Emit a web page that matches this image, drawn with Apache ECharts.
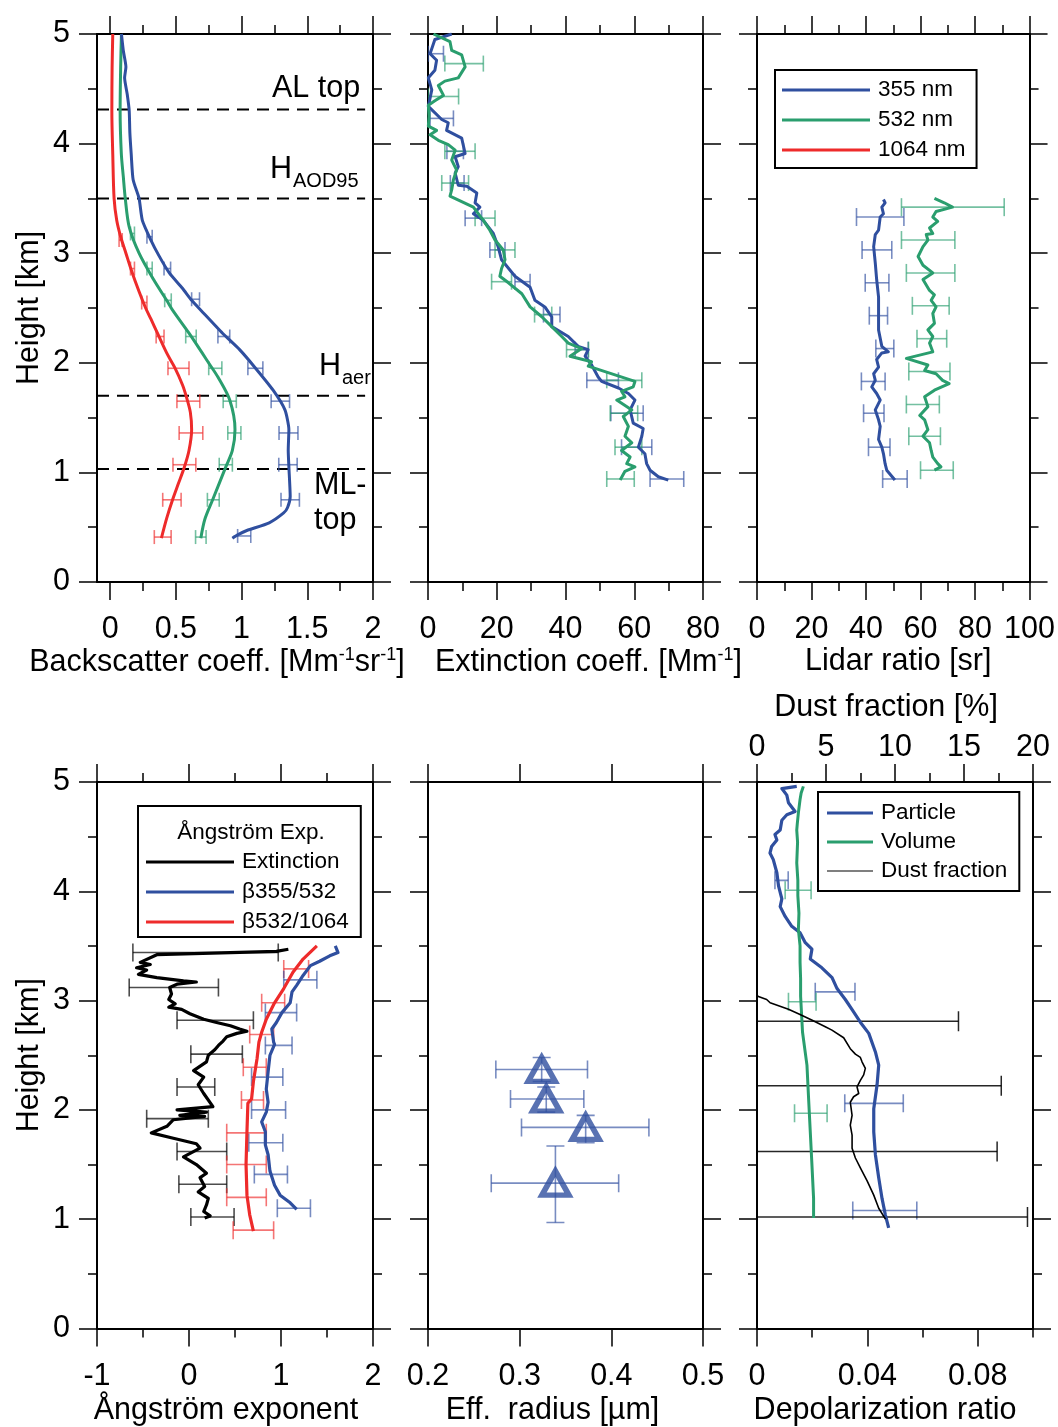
<!DOCTYPE html>
<html><head><meta charset="utf-8">
<script src="https://cdn.jsdelivr.net/npm/echarts@6/dist/echarts.min.js"></script>
<style>html,body{margin:0;padding:0;background:#fff}#c{width:1058px;height:1427px}</style>
</head><body><div id="c"></div><script>
// ---------------- tick values ----------------
const heightMajor=[0,1,2,3,4,5], heightMinor=[0.5,1.5,2.5,3.5,4.5];
const bscMajor=[0,0.5,1,1.5,2], bscMinor=[0.25,0.75,1.25,1.75];
const extMajor=[0,20,40,60,80], extMinor=[10,30,50,70];
const lrMajor=[0,20,40,60,80,100], lrMinor=[10,30,50,70,90];
const aeMajor=[-1,0,1,2], aeMinor=[-0.5,0.5,1.5];
const reffMajor=[0.2,0.3,0.4,0.5];
const depMajor=[0,0.04,0.08], depMinor=[0.02,0.06,0.1];
const dustMajor=[0,5,10,15,20], dustMinor=[2.5,7.5,12.5,17.5];

// ---------------- panel 1: backscatter [value, height km] ----------------
const bsc1064=[[0.02,5.0],[0.015,4.7],[0.013,4.3],[0.02,3.9],[0.03,3.5],[0.05,3.3],[0.08,3.15],[0.12,3.0],[0.16,2.85],[0.22,2.65],[0.27,2.5],[0.31,2.4],[0.36,2.27],[0.43,2.09],[0.49,1.96],[0.55,1.8],[0.58,1.69],[0.61,1.55],[0.62,1.39],[0.60,1.2],[0.565,1.05],[0.52,0.9],[0.475,0.75],[0.43,0.58],[0.39,0.40]];
const bsc532=[[0.086,5.0],[0.08,4.7],[0.076,4.3],[0.085,3.91],[0.10,3.7],[0.115,3.5],[0.145,3.24],[0.22,3.0],[0.335,2.75],[0.43,2.57],[0.475,2.48],[0.60,2.27],[0.70,2.09],[0.76,1.98],[0.82,1.87],[0.91,1.66],[0.95,1.39],[0.93,1.2],[0.88,1.05],[0.78,0.75],[0.72,0.57],[0.69,0.40]];
const bsc355=[[0.086,5.0],[0.10,4.85],[0.12,4.7],[0.11,4.6],[0.13,4.45],[0.145,4.3],[0.15,4.1],[0.16,3.91],[0.175,3.67],[0.22,3.5],[0.245,3.3],[0.31,3.12],[0.37,2.98],[0.45,2.82],[0.55,2.68],[0.62,2.57],[0.69,2.48],[0.855,2.27],[0.985,2.12],[1.10,1.96],[1.24,1.75],[1.33,1.57],[1.36,1.39],[1.355,1.2],[1.36,1.05],[1.37,0.78],[1.35,0.68],[1.32,0.63],[1.21,0.54],[1.04,0.47],[0.97,0.43],[0.93,0.40]];
// error bars [center, height, half width]
const bsc1064Err=[[0.08,3.12,0.012],[0.17,2.86,0.015],[0.26,2.55,0.02],[0.38,2.24,0.03],[0.52,1.95,0.08],[0.595,1.65,0.087],[0.615,1.36,0.09],[0.565,1.07,0.087],[0.47,0.75,0.07],[0.40,0.41,0.064]];
const bsc532Err=[[0.17,3.18,0.015],[0.30,2.86,0.02],[0.44,2.57,0.025],[0.615,2.24,0.04],[0.80,1.95,0.05],[0.91,1.65,0.05],[0.945,1.36,0.05],[0.88,1.07,0.05],[0.785,0.75,0.045],[0.69,0.41,0.04]];
const bsc355Err=[[0.30,3.15,0.02],[0.435,2.86,0.025],[0.65,2.58,0.03],[0.865,2.24,0.045],[1.105,1.95,0.057],[1.295,1.65,0.07],[1.357,1.36,0.072],[1.353,1.07,0.07],[1.37,0.75,0.07],[1.02,0.42,0.05]];
const layerHeights=[4.31,3.5,1.70,1.03];

// ---------------- panel 2: extinction ----------------
const ext355=[[6.9,5.0],[2.0,4.95],[0.6,4.82],[2.5,4.76],[2.0,4.67],[0.1,4.60],[1.1,4.49],[0.1,4.34],[4.0,4.22],[5.9,4.19],[5.4,4.12],[9.8,4.05],[10.8,3.91],[7.9,3.88],[8.8,3.79],[7.9,3.73],[8.8,3.62],[11.3,3.61],[14.2,3.55],[13.7,3.46],[15.1,3.42],[13.2,3.36],[16.1,3.30],[19.0,3.18],[20.4,3.06],[21.4,2.94],[25.3,2.79],[29.7,2.69],[31.1,2.57],[34.0,2.51],[36.0,2.42],[36.0,2.33],[40.8,2.24],[43.7,2.15],[46.6,2.12],[45.7,2.06],[47.6,1.98],[49.5,1.87],[50.5,1.83],[55.4,1.77],[58.3,1.72],[60.2,1.66],[58.8,1.57],[59.7,1.45],[62.6,1.40],[62.2,1.33],[61.2,1.23],[63.1,1.17],[63.6,1.08],[64.6,1.02],[67.0,0.96],[69.9,0.93]];
const ext532=[[1.6,5.0],[6.4,4.93],[6.9,4.85],[9.8,4.81],[10.8,4.70],[8.8,4.60],[4.9,4.57],[3.0,4.53],[4.5,4.44],[2.0,4.39],[0.1,4.35],[0.3,4.25],[0.1,4.16],[2.5,4.12],[0.6,4.08],[3.0,4.03],[5.9,3.99],[7.9,3.94],[6.9,3.85],[8.3,3.76],[7.4,3.67],[6.9,3.58],[6.4,3.52],[9.8,3.47],[13.2,3.42],[16.1,3.30],[18.0,3.21],[19.5,3.12],[21.9,3.03],[22.4,2.94],[21.4,2.86],[20.9,2.79],[23.4,2.73],[27.3,2.63],[29.7,2.51],[33.1,2.42],[36.0,2.33],[38.9,2.24],[40.8,2.18],[44.7,2.13],[41.3,2.06],[47.6,2.01],[46.6,1.97],[54.4,1.89],[60.2,1.83],[59.7,1.78],[56.3,1.74],[57.3,1.69],[54.9,1.66],[59.3,1.57],[56.8,1.51],[58.3,1.42],[57.3,1.33],[59.3,1.27],[56.3,1.20],[58.8,1.14],[57.8,1.08],[60.2,1.05],[57.3,1.01],[55.9,0.93]];
const ext355Err=[[2.3,4.82,2.2],[4.0,4.23,3.4],[7.9,3.93,2.4],[8.5,3.64,2.0],[13.2,3.32,2.4],[20.2,3.03,2.2],[27.5,2.74,2.2],[36.0,2.44,2.4],[44.7,2.12,1.9],[50.8,1.84,4.6],[57.9,1.54,4.7],[60.7,1.23,4.4],[69.5,0.94,4.9]];
const ext532Err=[[10.5,4.73,5.6],[4.5,4.43,4.4],[9.3,3.93,4.4],[7.9,3.64,3.9],[16.6,3.32,2.9],[22.4,3.03,2.9],[21.4,2.74,2.9],[33.5,2.44,2.5],[43.5,2.12,3.2],[57.1,1.84,5.1],[57.0,1.54,4.0],[58.3,1.23,3.9],[56.0,0.94,4.0]];

// ---------------- panel 3: lidar ratio ----------------
const lr355=[[46.4,3.49],[47.0,3.46],[45.8,3.42],[46.4,3.36],[45.2,3.33],[44.6,3.21],[43.4,3.17],[42.8,3.06],[43.4,2.91],[43.9,2.76],[44.6,2.60],[44.6,2.45],[44.6,2.30],[45.8,2.15],[48.2,2.10],[45.8,2.09],[43.9,2.03],[44.6,1.96],[42.8,1.90],[43.4,1.84],[42.1,1.78],[43.9,1.72],[45.2,1.66],[43.4,1.57],[44.6,1.48],[45.2,1.42],[44.6,1.30],[45.8,1.23],[46.4,1.17],[47.0,1.08],[47.6,1.02],[50.6,0.93]];
const lr532=[[65.1,3.50],[68.7,3.46],[71.7,3.42],[65.7,3.38],[64.5,3.33],[66.3,3.29],[63.3,3.23],[64.5,3.18],[62.1,3.17],[62.7,3.12],[60.9,3.06],[59.1,2.97],[60.9,2.89],[64.5,2.82],[60.9,2.76],[63.3,2.66],[65.1,2.62],[63.9,2.57],[65.7,2.51],[64.5,2.45],[65.1,2.36],[62.7,2.30],[64.5,2.24],[63.3,2.18],[64.5,2.10],[54.8,2.04],[62.7,1.98],[61.5,1.93],[65.7,1.90],[68.1,1.84],[70.5,1.81],[65.1,1.75],[61.5,1.69],[62.7,1.60],[59.7,1.52],[61.5,1.48],[62.7,1.39],[60.9,1.33],[63.3,1.27],[63.9,1.20],[64.5,1.14],[66.3,1.08],[67.5,1.05],[65.1,1.02]];
const lr355Err=[[45.2,3.33,8.7],[44.0,3.03,5.45],[44.05,2.73,4.35],[44.55,2.43,3.35],[46.9,2.13,3.3],[42.65,1.83,4.35],[42.85,1.54,3.75],[44.85,1.23,3.95],[50.6,0.94,4.5]];
const lr532Err=[[71.85,3.42,18.85],[62.8,3.12,9.8],[63.7,2.82,8.9],[63.75,2.52,6.75],[64.15,2.22,5.45],[63.25,1.92,7.55],[60.85,1.62,6.05],[61.5,1.33,5.8],[66.0,1.02,6.0]];

// ---------------- panel 4: Angstrom exponents ----------------
const aeExt=[[1.08,3.47],[0.95,3.45],[-0.35,3.42],[-0.53,3.35],[-0.42,3.33],[-0.57,3.30],[-0.46,3.28],[-0.55,3.24],[-0.35,3.21],[-0.06,3.18],[0.08,3.17],[-0.13,3.15],[-0.21,3.12],[-0.19,3.06],[-0.22,3.01],[-0.15,2.97],[-0.22,2.94],[-0.08,2.92],[0.01,2.88],[0.16,2.83],[0.30,2.80],[0.45,2.77],[0.55,2.74],[0.63,2.72],[0.52,2.70],[0.41,2.67],[0.37,2.63],[0.32,2.59],[0.28,2.55],[0.21,2.50],[0.19,2.44],[0.05,2.36],[0.16,2.30],[0.10,2.23],[0.16,2.15],[0.26,2.03],[-0.13,2.00],[0.19,1.98],[-0.10,1.95],[0.17,1.94],[-0.17,1.91],[-0.24,1.85],[-0.41,1.79],[-0.17,1.74],[0.08,1.69],[0.12,1.65],[-0.06,1.57],[0.08,1.50],[0.19,1.42],[0.12,1.38],[0.17,1.30],[0.10,1.25],[0.21,1.19],[0.19,1.13],[0.16,1.07],[0.23,1.03],[0.17,1.01]];
const ae532_1064=[[1.39,3.50],[1.24,3.38],[1.13,3.26],[1.03,3.11],[0.93,2.98],[0.84,2.83],[0.79,2.71],[0.76,2.62],[0.74,2.47],[0.70,2.26],[0.68,2.10],[0.64,2.06],[0.63,1.80],[0.62,1.50],[0.63,1.22],[0.66,1.04],[0.70,0.89]];
const ae355_532=[[1.59,3.50],[1.62,3.44],[1.53,3.41],[1.42,3.36],[1.32,3.32],[1.24,3.23],[1.17,3.14],[1.12,3.08],[1.10,2.98],[1.01,2.89],[0.95,2.80],[0.90,2.74],[0.92,2.62],[0.93,2.60],[0.88,2.50],[0.86,2.35],[0.84,2.19],[0.86,2.07],[0.84,1.98],[0.79,1.89],[0.83,1.80],[0.83,1.68],[0.86,1.59],[0.88,1.44],[0.93,1.31],[0.99,1.22],[1.10,1.15],[1.17,1.09]];
const aeExtErr=[[0.18,3.44,0.79],[-0.165,3.12,0.485],[0.285,2.82,0.415],[0.30,2.51,0.28],[0.075,2.21,0.205],[-0.125,1.92,0.335],[0.14,1.62,0.27],[0.15,1.32,0.26],[0.255,1.02,0.235]];
const ae532_1064Err=[[1.165,3.29,0.135],[0.915,2.98,0.125],[0.79,2.69,0.13],[0.715,2.39,0.125],[0.69,2.09,0.12],[0.625,1.79,0.215],[0.625,1.50,0.215],[0.625,1.20,0.215],[0.70,0.90,0.22]];
const ae355_532Err=[[1.21,3.19,0.18],[1.0,2.89,0.17],[0.975,2.59,0.145],[0.85,2.30,0.17],[0.865,2.00,0.185],[0.835,1.70,0.185],[0.89,1.41,0.18],[1.14,1.10,0.18]];

// ---------------- panel 5: effective radius ----------------
// [radius, height, radius low, radius high, height low, height high]
const effRadius=[[0.324,2.37,0.274,0.374,2.26,2.48],[0.329,2.10,0.290,0.370,1.98,2.21],[0.372,1.84,0.302,0.441,1.70,1.95],[0.339,1.33,0.269,0.408,0.97,1.67]];

// ---------------- panel 6: depolarization / dust fraction ----------------
const depParticle=[[0.0144,4.96],[0.0090,4.94],[0.0108,4.88],[0.0114,4.81],[0.0138,4.73],[0.0108,4.70],[0.0090,4.65],[0.0084,4.56],[0.0065,4.52],[0.0072,4.47],[0.0053,4.41],[0.0047,4.35],[0.0059,4.29],[0.0072,4.17],[0.0078,4.05],[0.0090,3.93],[0.0084,3.86],[0.0102,3.77],[0.0126,3.68],[0.0156,3.62],[0.0175,3.53],[0.0199,3.47],[0.0193,3.38],[0.0235,3.30],[0.0272,3.21],[0.0290,3.11],[0.0320,3.01],[0.0344,2.92],[0.0375,2.80],[0.0405,2.70],[0.0429,2.53],[0.0441,2.41],[0.0435,2.23],[0.0423,2.01],[0.0423,1.80],[0.0429,1.59],[0.0441,1.38],[0.0453,1.19],[0.0465,1.04],[0.0477,0.92]];
const depVolume=[[0.0168,4.96],[0.0160,4.90],[0.0156,4.84],[0.0150,4.72],[0.0146,4.62],[0.0144,4.56],[0.0147,4.45],[0.0144,4.26],[0.0148,4.10],[0.0148,3.96],[0.0152,3.80],[0.0150,3.65],[0.0156,3.50],[0.0156,3.35],[0.0158,3.20],[0.0158,3.04],[0.0165,2.71],[0.0181,2.41],[0.0187,2.10],[0.0193,1.80],[0.0199,1.50],[0.0205,1.19],[0.0205,1.01]];
const dustFraction=[[0,3.06],[0.05,3.04],[0.70,3.01],[0.95,2.98],[2.28,2.92],[3.0,2.88],[4.0,2.82],[4.95,2.76],[5.43,2.73],[6.28,2.66],[6.76,2.56],[7.13,2.51],[7.49,2.48],[7.61,2.44],[7.85,2.38],[7.73,2.32],[7.49,2.27],[7.25,2.21],[7.37,2.15],[7.0,2.12],[6.76,2.07],[6.89,1.95],[6.76,1.86],[6.89,1.77],[6.89,1.65],[7.13,1.56],[7.49,1.47],[7.98,1.35],[8.46,1.22],[8.82,1.10],[9.31,1.00]];
const depParticleErr=[[0.0089,4.10,0.0024],[0.0283,3.08,0.0072],[0.0424,2.06,0.0106],[0.0463,1.08,0.0116]];
const depVolumeErr=[[0.0149,4.01,0.0047],[0.0164,2.99,0.0050],[0.0195,1.97,0.0059]];
const dustFractionErr=[[4.2,2.81,10.4],[7.3,2.22,10.4],[6.9,1.62,10.5],[9.3,1.02,10.3]];

// ---------------- styling ----------------
const FONT='"Liberation Sans", Arial, Helvetica, sans-serif';
const FS=30.5;
const BLUE='#2f4f9f', GREEN='#2a9e6e', RED='#ee2b2b', BLACK='#000';
const BLUE_E='rgba(47,79,159,0.65)', GREEN_E='rgba(42,158,110,0.65)', RED_E='rgba(238,43,43,0.65)';
const MAJ=18, MIN=9;
const AXL={color:'#000',width:2}, TKL={color:'#000',width:1.5};

const grids=[
  {left:97,top:34,width:276,height:548},
  {left:428,top:34,width:275,height:548},
  {left:757,top:34,width:276,height:548},
  {left:97,top:782,width:276,height:549},
  {left:428,top:782,width:275,height:549},
  {left:757,top:782,width:276,height:549}
];
function richName(size){
  return {a:{fontSize:size,fontFamily:FONT,color:'#000',lineHeight:34},
          s:{fontSize:18,fontFamily:FONT,color:'#000',verticalAlign:'top',lineHeight:18}};
}
const xSpec=[
  {min:-0.1,max:2,major:bscMajor,minor:bscMinor,name:'{a|Backscatter coeff. [Mm}{s|-1}{a|sr}{s|-1}{a|]}',shift:-18,margin:32,gap:59},
  {min:0,max:80,major:extMajor,minor:extMinor,name:'{a|Extinction coeff. [Mm}{s|-1}{a|]}',shift:23,margin:32,gap:59},
  {min:0,max:100,major:lrMajor,minor:lrMinor,name:'{a|Lidar ratio [sr]}',shift:5,margin:32,gap:59},
  {min:-1,max:2,major:aeMajor,minor:aeMinor,name:'{a|Ångström exponent}',shift:-9,margin:33,gap:65},
  {min:0.2,max:0.5,major:reffMajor,minor:[],name:'{a|Eff.  radius [µm]}',shift:-13,margin:33,gap:65},
  {min:0,max:0.1,major:depMajor,minor:depMinor,name:'{a|Depolarization ratio}',shift:-10,margin:33,gap:65}
];
const dustSpec={min:0,max:20,major:dustMajor,minor:dustMinor,name:'{a|Dust fraction [%]}',shift:-9,margin:19,gap:57};

function axis(g,pos,min,max,ticks,len,line,labels,margin,extra){
  const o={type:'value',gridIndex:g,position:pos,min:min,max:max,silent:true,
    axisLine:{show:line,onZero:false,lineStyle:AXL},
    axisTick:ticks.length?{show:true,inside:false,length:len,customValues:ticks,lineStyle:TKL}:{show:false},
    axisLabel:labels?{show:true,customValues:labels,margin:margin,color:'#000',fontSize:FS,fontFamily:FONT}:{show:false},
    splitLine:{show:false},splitArea:{show:false},minorTick:{show:false}};
  return Object.assign(o,extra||{});
}
function nameCfg(s){
  const pad=s.shift<0?[0,-2*s.shift,0,0]:[0,0,0,2*s.shift];
  return {name:s.name,nameLocation:'middle',nameGap:s.gap,
    nameTextStyle:{color:'#000',fontFamily:FONT,fontSize:FS,padding:pad,rich:richName(FS)}};
}
const xAxes=[], yAxes=[];
grids.forEach((gr,g)=>{
  const s=xSpec[g];
  xAxes.push(axis(g,'bottom',s.min,s.max,s.major,MAJ,true,s.major,s.margin,nameCfg(s)));
  xAxes.push(axis(g,'bottom',s.min,s.max,s.minor,MIN,false,null,0));
  const t=g===5?dustSpec:s;
  xAxes.push(axis(g,'top',t.min,t.max,t.major,MAJ,true,g===5?t.major:null,t.margin,g===5?nameCfg(t):null));
  xAxes.push(axis(g,'top',t.min,t.max,t.minor,MIN,false,null,0));
  const lab=(g===0||g===3);
  yAxes.push(axis(g,'left',0,5,heightMajor,MAJ,true,lab?heightMajor:null,27,lab?{name:'Height [km]',nameLocation:'middle',nameGap:52,nameTextStyle:{color:'#000',fontFamily:FONT,fontSize:FS}}:null));
  yAxes.push(axis(g,'left',0,5,heightMinor,MIN,false,null,0));
  yAxes.push(axis(g,'right',0,5,heightMajor,MAJ,true,null,0));
  yAxes.push(axis(g,'right',0,5,heightMinor,MIN,false,null,0));
});

function line(g,name,data,color,width,xIdx,extra){
  return Object.assign({type:'line',name:name,xAxisIndex:xIdx!=null?xIdx:4*g,yAxisIndex:4*g,data:data,
    symbol:'none',showSymbol:false,clip:true,z:3,silent:true,
    itemStyle:{color:color},lineStyle:{color:color,width:width,join:'round'},emphasis:{disabled:true}},extra||{});
}
function err(g,data,color,cap,xIdx,lw){
  return {type:'custom',xAxisIndex:xIdx!=null?xIdx:4*g,yAxisIndex:4*g,data:data,clip:true,silent:true,z:2,
    renderItem:function(p,api){
      const c=api.value(0),h=api.value(1),w=api.value(2);
      const a=api.coord([c-w,h]), b=api.coord([c+w,h]);
      const st={stroke:color,lineWidth:lw||1.6};
      return {type:'group',children:[
        {type:'line',shape:{x1:a[0],y1:a[1],x2:b[0],y2:b[1]},style:st},
        {type:'line',shape:{x1:a[0],y1:a[1]-cap,x2:a[0],y2:a[1]+cap},style:st},
        {type:'line',shape:{x1:b[0],y1:b[1]-cap,x2:b[0],y2:b[1]+cap},style:st}]};
    }};
}
function err2d(g,data,color,cap){
  return {type:'custom',xAxisIndex:4*g,yAxisIndex:4*g,data:data,clip:true,silent:true,z:2,
    renderItem:function(p,api){
      const x=api.value(0),h=api.value(1);
      const a=api.coord([api.value(2),h]), b=api.coord([api.value(3),h]);
      const lo=api.coord([x,api.value(4)]), hi=api.coord([x,api.value(5)]);
      const st={stroke:color,lineWidth:1.6};
      return {type:'group',children:[
        {type:'line',shape:{x1:a[0],y1:a[1],x2:b[0],y2:b[1]},style:st},
        {type:'line',shape:{x1:a[0],y1:a[1]-cap,x2:a[0],y2:a[1]+cap},style:st},
        {type:'line',shape:{x1:b[0],y1:b[1]-cap,x2:b[0],y2:b[1]+cap},style:st},
        {type:'line',shape:{x1:lo[0],y1:lo[1],x2:hi[0],y2:hi[1]},style:st},
        {type:'line',shape:{x1:lo[0]-cap,y1:lo[1],x2:lo[0]+cap,y2:lo[1]},style:st},
        {type:'line',shape:{x1:hi[0]-cap,y1:hi[1],x2:hi[0]+cap,y2:hi[1]},style:st}]};
    }};
}

const series=[
  err(0,bsc1064Err,RED_E,7), err(0,bsc532Err,GREEN_E,7), err(0,bsc355Err,BLUE_E,7),
  line(0,'1064 nm',bsc1064,RED,3,null,{smooth:0.3}),
  line(0,'532 nm',bsc532,GREEN,3,null,{smooth:0.3}),
  line(0,'355 nm',bsc355,BLUE,3,null,{smooth:0.2}),
  err(1,ext355Err,BLUE_E,8), err(1,ext532Err,GREEN_E,8),
  line(1,'355 nm',ext355,BLUE,3), line(1,'532 nm',ext532,GREEN,3),
  err(2,lr355Err,BLUE_E,9), err(2,lr532Err,GREEN_E,9),
  line(2,'355 nm',lr355,BLUE,3), line(2,'532 nm',lr532,GREEN,3),
  err(3,aeExtErr,'rgba(0,0,0,0.7)',9), err(3,ae532_1064Err,RED_E,9), err(3,ae355_532Err,BLUE_E,9),
  line(3,'Extinction',aeExt,BLACK,3.2), line(3,'β532/1064',ae532_1064,RED,3.2), line(3,'β355/532',ae355_532,BLUE,3.2),
  err2d(4,effRadius,BLUE_E,9),
  {type:'scatter',name:'Eff. radius',xAxisIndex:16,yAxisIndex:16,data:effRadius.map(r=>[r[0],r[1]]),symbol:'triangle',symbolSize:[27,24],z:4,silent:true,
    itemStyle:{color:'rgba(255,255,255,0)',borderColor:BLUE,borderWidth:5.5}},
  err(5,depParticleErr,BLUE_E,9), err(5,depVolumeErr,GREEN_E,9), err(5,dustFractionErr,'rgba(0,0,0,0.85)',10,22,1.5),
  line(5,'Particle',depParticle,BLUE,3.2), line(5,'Volume',depVolume,GREEN,3),
  line(5,'Dust fraction',dustFraction,BLACK,1.6,22)
];
layerHeights.forEach(h=>{
  series.push(line(0,'layer',[[-0.1,h],[1.94,h]],BLACK,2,null,{lineStyle:{color:'#000',width:2,type:[12,8]},z:1}));
});

const legendText={color:'#000',fontSize:22.5,fontFamily:FONT,lineHeight:26,padding:[0,0,0,3]};
const option={
  animation:false,
  backgroundColor:'#fff',
  grid:grids,
  xAxis:xAxes,
  yAxis:yAxes,
  legend:[
    {data:['355 nm','532 nm','1064 nm'],orient:'vertical',left:775,top:70,icon:'rect',itemWidth:88,itemHeight:3,itemGap:4,
     borderColor:'#000',borderWidth:2,padding:[7,11,5,7],backgroundColor:'#fff',selectedMode:false,textStyle:legendText},
    {data:['Extinction','β355/532','β532/1064'],orient:'vertical',left:138,top:806,icon:'rect',itemWidth:88,itemHeight:3,itemGap:4,
     borderColor:'#000',borderWidth:2,padding:[43,12,2,8],backgroundColor:'#fff',selectedMode:false,textStyle:legendText},
    {data:['Particle','Volume',{name:'Dust fraction',icon:'path://M0,0L0,0M0,0.5H100V2.5H0ZM0,3L0,3'}],orient:'vertical',left:818,top:792,icon:'rect',itemWidth:46,itemHeight:3,itemGap:3,
     borderColor:'#000',borderWidth:2,padding:[8,12,7,9],backgroundColor:'#fff',selectedMode:false,textStyle:legendText}
  ],
  graphic:[
    {type:'text',x:272,y:89,style:{text:'AL top',font:FS+'px '+FONT,fill:'#000',verticalAlign:'middle',textVerticalAlign:'middle'}},
    {type:'text',x:270,y:170,style:{text:'H',font:FS+'px '+FONT,fill:'#000',verticalAlign:'middle',textVerticalAlign:'middle'}},
    {type:'text',x:293,y:181,style:{text:'AOD95',font:'20px '+FONT,fill:'#000',verticalAlign:'middle',textVerticalAlign:'middle'}},
    {type:'text',x:319,y:367,style:{text:'H',font:FS+'px '+FONT,fill:'#000',verticalAlign:'middle',textVerticalAlign:'middle'}},
    {type:'text',x:342,y:378,style:{text:'aer',font:'20px '+FONT,fill:'#000',verticalAlign:'middle',textVerticalAlign:'middle'}},
    {type:'text',x:314,y:486,style:{text:'ML-',font:FS+'px '+FONT,fill:'#000',verticalAlign:'middle',textVerticalAlign:'middle'}},
    {type:'text',x:314,y:521,style:{text:'top',font:FS+'px '+FONT,fill:'#000',verticalAlign:'middle',textVerticalAlign:'middle'}},
    {type:'text',x:251,y:833,z:100,style:{text:'Ångström Exp.',font:'22.5px '+FONT,fill:'#000',align:'center',textAlign:'center',verticalAlign:'middle',textVerticalAlign:'middle'}}
  ],
  series:series
};
const chart=echarts.init(document.getElementById('c'));
chart.setOption(option);
</script></body></html>
